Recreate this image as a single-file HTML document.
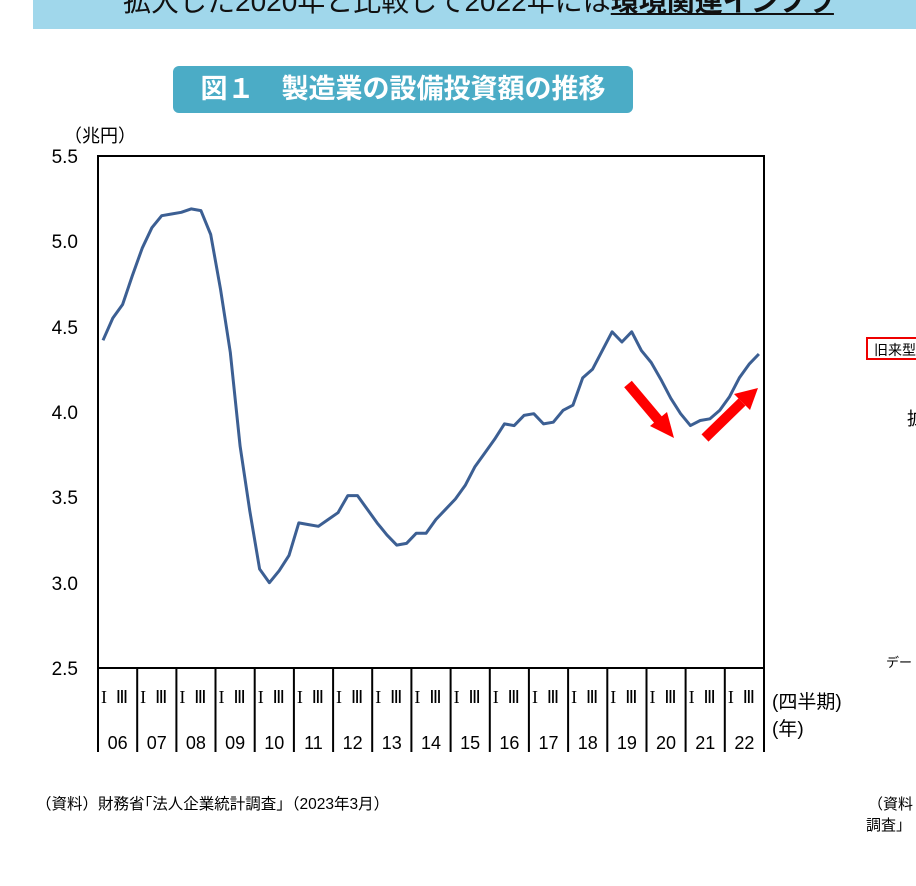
<!DOCTYPE html><html><head><meta charset="utf-8"><style>
body{margin:0;width:916px;height:886px;background:#fff;position:relative;overflow:hidden;font-family:"Liberation Sans","Noto Sans CJK JP",sans-serif;}
.a{position:absolute;white-space:nowrap;}
</style></head><body>
<div class="a" style="left:33px;top:0;width:883px;height:29px;background:#a0d7eb;overflow:hidden">
<div class="a" style="left:90px;top:-20px;font-size:28px;color:#111">拡大した2020年と比較して2022年には<b style="text-decoration:underline">環境関連インフラ</b></div></div>
<div class="a" style="left:173px;top:66px;width:460px;height:47px;background:#4bacc6;border-radius:6px;color:#fff;font-weight:bold;font-size:27px;line-height:47px;text-align:center">図１　製造業の設備投資額の推移</div>
<svg class="a" style="left:0;top:0" width="916" height="886" font-family="Liberation Sans, Noto Sans CJK JP, sans-serif">
<text x="64" y="142" font-size="18">（兆円）</text>
<g font-size="19" text-anchor="end">
<text x="78" y="163">5.5</text><text x="78" y="248">5.0</text><text x="78" y="334">4.5</text>
<text x="78" y="419">4.0</text><text x="78" y="504">3.5</text><text x="78" y="590">3.0</text><text x="78" y="675">2.5</text></g>
<rect x="98" y="156" width="666" height="512" fill="none" stroke="#000" stroke-width="2"/>
<g id="xa" stroke="#000" stroke-width="2"></g>
<g id="xl" font-size="18" text-anchor="middle"></g>
<polyline id="ln" fill="none" stroke="#3c5f93" stroke-width="3" stroke-linejoin="round"/>
<g fill="#f00" stroke="#f00">
<line x1="628" y1="384" x2="660" y2="422" stroke-width="10"/>
<polygon points="674,438 650,426 667,412" stroke="none"/>
<line x1="705" y1="438" x2="742" y2="402" stroke-width="10"/>
<polygon points="758,388 734,394 750,410" stroke="none"/>
</g>
<text x="772" y="708" font-size="19">(四半期)</text>
<text x="772" y="735" font-size="19">(年)</text>
<rect x="867" y="338" width="60" height="21" fill="none" stroke="#e00" stroke-width="2"/>
<text x="874" y="355" font-size="14">旧来型</text>
<text x="907" y="425" font-size="18">拡</text>
<text x="886" y="667" font-size="13">デー</text>
<text x="36" y="809" font-size="15.5">（資料）財務省｢法人企業統計調査｣（2023年3月）</text>
<text x="868" y="809" font-size="15">（資料</text>
<text x="866" y="830" font-size="15">調査」</text>
</svg>
<script>
var d=[4.42,4.55,4.63,4.80,4.96,5.08,5.15,5.16,5.17,5.19,5.18,5.04,4.72,4.35,3.80,3.42,3.08,3.00,3.07,3.16,3.35,3.34,3.33,3.37,3.41,3.51,3.51,3.43,3.35,3.28,3.22,3.23,3.29,3.29,3.37,3.43,3.49,3.57,3.68,3.76,3.84,3.93,3.92,3.98,3.99,3.93,3.94,4.01,4.04,4.20,4.25,4.36,4.47,4.41,4.47,4.36,4.29,4.19,4.08,3.99,3.92,3.95,3.96,4.01,4.09,4.20,4.28,4.34];
var p=d.map(function(v,i){return (103+9.79*i).toFixed(1)+","+(668-(v-2.5)*170.67).toFixed(1)}).join(" ");
document.getElementById("ln").setAttribute("points",p);
var xa="",xl="",w=666/17;
for(var k=0;k<=17;k++){var x=(98+w*k).toFixed(1);xa+='<line x1="'+x+'" y1="668" x2="'+x+'" y2="752"/>';}
for(var k=0;k<17;k++){var x0=98+w*k;xl+='<text x="'+(x0+6)+'" y="703" font-family="Liberation Serif,serif">I</text><text x="'+(x0+24)+'" y="703" font-family="Liberation Serif,serif">Ⅲ</text><text x="'+(x0+w/2)+'" y="749">'+("0"+(6+k)).slice(-2)+'</text>';}
document.getElementById("xa").innerHTML=xa;document.getElementById("xl").innerHTML=xl;
</script>
</body></html>
